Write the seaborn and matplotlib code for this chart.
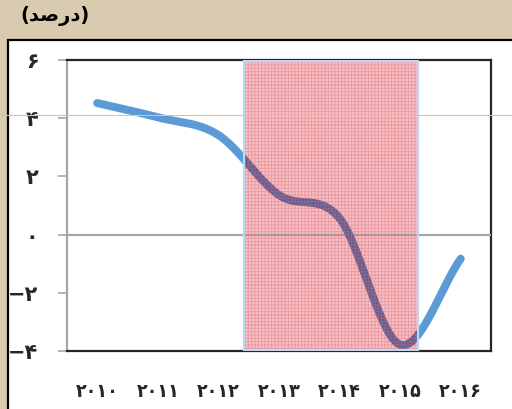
import numpy as np
import matplotlib
matplotlib.use("Agg")
import matplotlib.pyplot as plt
import seaborn as sns
from matplotlib.patches import Rectangle
from matplotlib.lines import Line2D

# ---- data ----
years = [2010, 2011, 2012, 2013, 2014, 2015, 2016]
growth = [4.52, 4.03, 3.42, 1.36, 0.56, -3.78, -0.83]
x_labels = ["۲۰۱۰", "۲۰۱۱", "۲۰۱۲", "۲۰۱۳", "۲۰۱۴", "۲۰۱۵", "۲۰۱۶"]
y_ticks = [-4, -2, 0, 2, 4, 6]
y_labels = ["−۴", "−۲", "۰", "۲", "۴", "۶"]
shade_start, shade_end = 2012.42, 2015.29
unit_label = "(ﺪﺻﺭﺩ)"   # (درصد) in visual order


def smooth_curve(x, y, n=60):
    """Excel-style smoothed line (Catmull-Rom / cubic Hermite)."""
    x = np.asarray(x, float)
    y = np.asarray(y, float)
    m = np.empty_like(y)
    m[1:-1] = (y[2:] - y[:-2]) / (x[2:] - x[:-2])
    m[0] = (y[1] - y[0]) / (x[1] - x[0])
    m[-1] = (y[-1] - y[-2]) / (x[-1] - x[-2])
    xs, ys = [], []
    for i in range(len(x) - 1):
        h = x[i + 1] - x[i]
        t = np.linspace(0, 1, n, endpoint=(i == len(x) - 2))
        h00 = 2 * t**3 - 3 * t**2 + 1
        h10 = t**3 - 2 * t**2 + t
        h01 = -2 * t**3 + 3 * t**2
        h11 = t**3 - t**2
        xs.append(x[i] + h * t)
        ys.append(h00 * y[i] + h10 * h * m[i] + h01 * y[i + 1] + h11 * h * m[i + 1])
    return np.concatenate(xs), np.concatenate(ys)


sns.set_style("white")
plt.rcParams["font.family"] = ["DejaVu Sans"]
plt.rcParams["hatch.linewidth"] = 0.7

W, H = 512, 409
fig = plt.figure(figsize=(W / 100, H / 100), dpi=100)
fig.patch.set_facecolor("#d8cbb0")

# white chart panel with black border (left/top visible)
fig.patches.append(Rectangle((8 / W, -0.1), 1.0, (H - 40) / H + 0.1,
                             transform=fig.transFigure, facecolor="white",
                             edgecolor="black", linewidth=1.6, zorder=-5))

ax = fig.add_axes([67 / W, 1 - 351 / H, (491 - 67) / W, (351 - 60) / H])
ax.set_zorder(1)
ax.set_facecolor("white")

xs, ys = smooth_curve(years, growth)
blue = "#5b9bd5"
sns.lineplot(x=xs, y=ys, ax=ax, color=blue, linewidth=5.8, sort=False,
             solid_capstyle="round", zorder=2, legend=False)

# shaded period
ymin_ax, ymax_ax = 0.004, 0.996
pink = ax.axvspan(shade_start, shade_end, ymin=ymin_ax, ymax=ymax_ax,
                  facecolor="#f5c3c7", edgecolor="none", zorder=3)
# line seen through the overlay
clip_line, = ax.plot(xs, ys, color="#5a6199", linewidth=5.8,
                     solid_capstyle="round", zorder=4)
clip_line.set_clip_path(pink)
ax.axhline(0, color="#a6a6a6", linewidth=1.6, zorder=3.5)
ax.axvspan(shade_start, shade_end, ymin=ymin_ax, ymax=ymax_ax,
           facecolor="none", edgecolor="#e06872", hatch="+++++",
           linewidth=0, alpha=0.45, zorder=5)
ax.axvspan(shade_start, shade_end, ymin=ymin_ax, ymax=ymax_ax,
           facecolor="none", edgecolor="#bdd7ee", linewidth=1.6, zorder=6)

ax.set_xlim(2009.5, 2016.5)
ax.set_ylim(-4, 6)
ax.set_xticks(years)
ax.set_xticklabels(x_labels, fontsize=14, fontweight="bold",
                   fontstretch="condensed")
ax.set_yticks(y_ticks)
ax.set_yticklabels(y_labels, fontsize=15, fontweight="bold")
ax.tick_params(axis="x", length=0, pad=22)
ax.tick_params(axis="y", length=6.5, width=1.2, color="#a6a6a6", pad=14,
               direction="out", left=True)

for side in ["top", "right", "bottom"]:
    ax.spines[side].set_color("#262626")
    ax.spines[side].set_linewidth(1.6)
    ax.spines[side].set_visible(True)
ax.spines["left"].set_color("#a6a6a6")
ax.spines["left"].set_linewidth(1.6)
ax.spines["left"].set_visible(True)
ax.set_xlabel("")
ax.set_ylabel("")

fig.text(20 / W, 1 - 16 / H, unit_label, ha="left", va="center",
         fontsize=14, fontweight="bold", color="black")

# faint tan line from the background texture
fig.lines.append(Line2D([0, 1], [1 - 115 / H] * 2, transform=fig.transFigure,
                        color="#d3c6aa", linewidth=0.8, zorder=10))

fig.savefig("out.png", dpi=100, facecolor=fig.get_facecolor())
